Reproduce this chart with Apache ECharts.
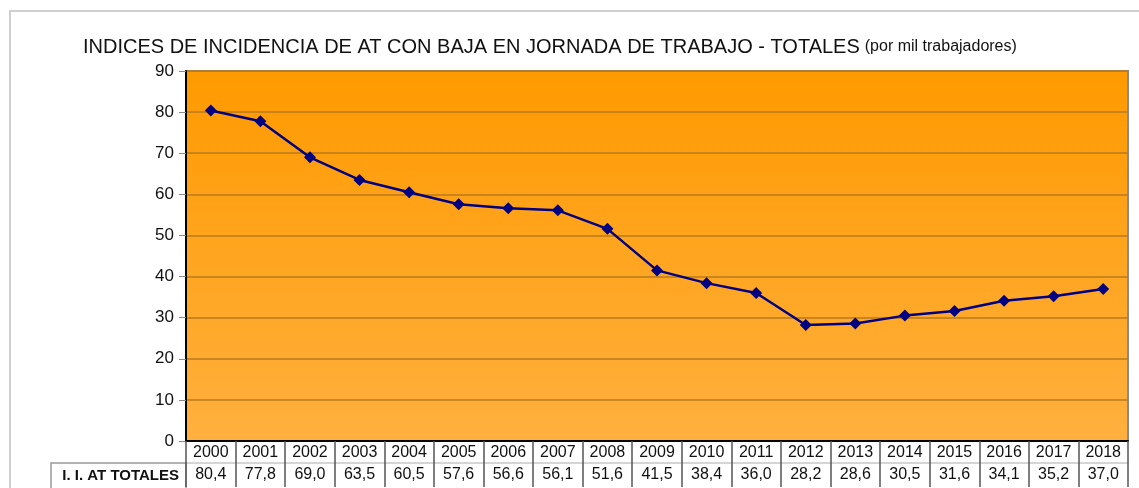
<!DOCTYPE html>
<html>
<head>
<meta charset="utf-8">
<script src="https://cdn.jsdelivr.net/npm/echarts@6/dist/echarts.min.js"></script>
<style>
html,body{margin:0;padding:0;background:#fff;}
#c{width:1139px;height:488px;}
</style>
</head>
<body>
<div id="c"></div>
<script>
const years = ['2000','2001','2002','2003','2004','2005','2006','2007','2008','2009','2010','2011','2012','2013','2014','2015','2016','2017','2018'];
const totales = [80.4,77.8,69.0,63.5,60.5,57.6,56.6,56.1,51.6,41.5,38.4,36.0,28.2,28.6,30.5,31.6,34.1,35.2,37.0];
const yTicks = [0,10,20,30,40,50,60,70,80,90];
const titleMain = 'INDICES DE INCIDENCIA DE AT CON BAJA EN JORNADA DE TRABAJO - TOTALES';
const titleSub = '(por mil trabajadores)';
const rowName = 'I. I. AT TOTALES';

const fmt = v => v.toFixed(1).replace('.', ',');
const font = '"Liberation Sans", Arial, sans-serif';

const chart = echarts.init(document.getElementById('c'));
chart.setOption({
  animation: false,
  textStyle: {fontFamily: font},
  title: {
    left: 78, top: 32,
    text: '{a|' + titleMain + '} {b|' + titleSub + '}',
    textStyle: {
      fontWeight: 'normal',
      rich: {
        a: {fontSize: 20, fontWeight: 'normal', color: '#111', fontFamily: font},
        b: {fontSize: 16, fontWeight: 'normal', color: '#111', fontFamily: font}
      }
    }
  },
  graphic: [
    {type: 'rect', shape: {x: 10, y: 11, width: 1300, height: 700}, style: {fill: 'none', stroke: '#cfcfcf', lineWidth: 2}, z: -10},
    {type: 'rect', shape: {x: 51, y: 463, width: 135, height: 40}, style: {fill: 'none', stroke: '#999', lineWidth: 1.5}, z: 1}
  ],
  grid: {
    left: 186, right: 11, top: 71, bottom: 47,
    show: true,
    borderColor: '#8a8a8a', borderWidth: 2,
    backgroundColor: new echarts.graphic.LinearGradient(0, 0, 0, 1, [
      {offset: 0, color: '#ff9a00'},
      {offset: 1, color: '#ffb03f'}
    ])
  },
  xAxis: [
    {
      type: 'category', data: years, boundaryGap: true, position: 'bottom',
      axisLine: {lineStyle: {color: '#000', width: 2}},
      axisTick: {show: true, length: 46, lineStyle: {color: '#555', width: 1.5}},
      axisLabel: {margin: 4, fontSize: 16, color: '#111', fontFamily: font},
      z: 5
    },
    {
      type: 'category', data: totales.map(fmt), boundaryGap: true, position: 'bottom', offset: 22,
      axisLine: {show: true, lineStyle: {color: '#c8c8c8', width: 1.5}},
      axisTick: {show: false},
      axisLabel: {margin: 4, fontSize: 16, color: '#111', fontFamily: font},
      name: rowName, nameLocation: 'start', nameGap: 7,
      nameTextStyle: {fontSize: 15, fontWeight: 'bold', color: '#111', fontFamily: font, verticalAlign: 'top', padding: [5, 0, 0, 0]}
    }
  ],
  yAxis: {
    type: 'value', min: yTicks[0], max: yTicks[yTicks.length - 1], interval: 10,
    axisLine: {show: true, lineStyle: {color: '#000', width: 2}},
    axisTick: {show: true, length: 7, lineStyle: {color: '#888'}},
    axisLabel: {margin: 12, fontSize: 17, color: '#111', fontFamily: font},
    splitLine: {show: true, lineStyle: {color: '#b97a1c', width: 1.5}}
  },
  series: [{
    type: 'line', xAxisIndex: 0, data: totales,
    symbol: 'diamond', symbolSize: 12,
    lineStyle: {color: '#000080', width: 2.5},
    itemStyle: {color: '#000080'}
  }]
});
</script>
</body>
</html>
